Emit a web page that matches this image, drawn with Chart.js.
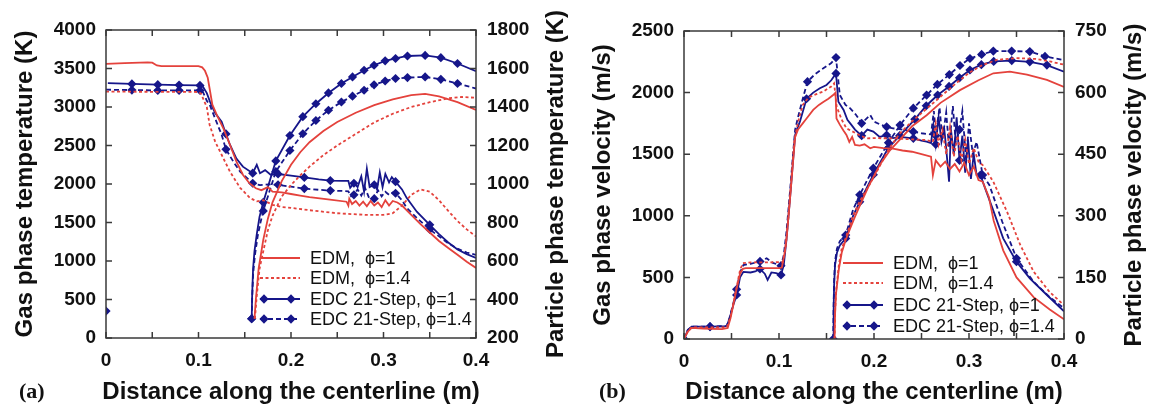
<!DOCTYPE html>
<html>
<head>
<meta charset="utf-8">
<script src="https://cdn.jsdelivr.net/npm/chart.js@4.4.0/dist/chart.umd.min.js"></script>
<style>
  body { margin: 0; background: #fff; }
  #wrap { position: relative; width: 1149px; height: 408px; }
  canvas { position: absolute; top: 0; }
</style>
</head>
<body>
<div id="wrap">
  <canvas id="chartA" width="575" height="408" style="left:0px"></canvas>
  <canvas id="chartB" width="574" height="408" style="left:575px"></canvas>
</div>
<script>
// ---- (a) temperatures along the centerline, [x (m), T (K)] ----
const aGasEdm1 = [[0,3560],[0.02,3570],[0.045,3580],[0.05,3575],[0.055,3540],[0.06,3530],[0.1,3530],[0.104,3515],[0.107,3470],[0.11,3380],[0.112,3240],[0.115,3030],[0.12,2890],[0.127,2720],[0.134,2510],[0.141,2290],[0.148,2120],[0.155,2010],[0.162,1945],[0.168,1920],[0.175,1960],[0.18,1900],[0.19,1890],[0.2,1870],[0.21,1850],[0.22,1830],[0.24,1800],[0.26,1770],[0.262,1720],[0.263,1810],[0.266,1740],[0.27,1780],[0.274,1720],[0.278,1770],[0.282,1710],[0.286,1780],[0.29,1720],[0.294,1760],[0.298,1700],[0.302,1790],[0.306,1720],[0.31,1780],[0.315,1760],[0.32,1720],[0.33,1600],[0.34,1480],[0.35,1370],[0.36,1260],[0.37,1170],[0.38,1080],[0.39,990],[0.4,910]];
const aGasEdm14 = [[0,3200],[0.1,3195],[0.103,3170],[0.106,3080],[0.109,3000],[0.112,2770],[0.118,2550],[0.125,2380],[0.134,2160],[0.145,1950],[0.156,1815],[0.163,1775],[0.17,1790],[0.18,1730],[0.19,1700],[0.2,1690],[0.22,1660],[0.25,1620],[0.28,1600],[0.3,1600],[0.31,1620],[0.32,1720],[0.33,1860],[0.34,1930],[0.35,1900],[0.36,1790],[0.37,1650],[0.38,1520],[0.39,1410],[0.4,1320]];
// inlet point stands apart from the rest of the curve (null = break)
const aGasEdc1 = [[0,350],[0.001,null],[0.002,3310],[0.028,3300],[0.056,3290],[0.079,3285],[0.1016,3280],[0.105,3260],[0.109,3180],[0.1124,3070],[0.118,2920],[0.125,2810],[0.1297,2650],[0.134,2510],[0.141,2330],[0.148,2225],[0.1586,2140],[0.163,2250],[0.1665,2140],[0.172,2180],[0.178,2120],[0.186,2130],[0.2,2110],[0.2144,2085],[0.23,2060],[0.2425,2045],[0.255,2040],[0.262,2040],[0.264,1950],[0.268,2010],[0.272,1960],[0.276,2100],[0.279,1900],[0.282,2200],[0.285,1960],[0.29,1990],[0.293,1930],[0.296,2150],[0.299,1960],[0.302,2130],[0.306,2020],[0.309,2090],[0.313,2030],[0.32,1930],[0.325,1820],[0.336,1640],[0.35,1470],[0.36,1350],[0.37,1240],[0.38,1150],[0.39,1090],[0.4,1040]];
const aGasEdc14 = [[0,3225],[0.028,3220],[0.056,3215],[0.079,3215],[0.1016,3215],[0.105,3190],[0.109,3080],[0.1124,3020],[0.118,2850],[0.125,2640],[0.1297,2450],[0.1377,2290],[0.145,2160],[0.1586,2010],[0.1665,1985],[0.176,1995],[0.186,1990],[0.2,1965],[0.2144,1940],[0.23,1925],[0.2425,1915],[0.255,1910],[0.262,1905],[0.265,1840],[0.268,1860],[0.272,1930],[0.276,1850],[0.28,1950],[0.284,1830],[0.29,1810],[0.294,1920],[0.298,1840],[0.302,1900],[0.306,1860],[0.31,1890],[0.313,1880],[0.32,1790],[0.325,1690],[0.336,1560],[0.35,1410],[0.36,1320],[0.37,1230],[0.38,1160],[0.39,1110],[0.4,1080]];
const aPartEdm1 = [[0.1605,300],[0.162,400],[0.165,560],[0.17,710],[0.175,820],[0.18,905],[0.19,1015],[0.2,1100],[0.21,1165],[0.22,1217],[0.235,1275],[0.25,1322],[0.27,1370],[0.29,1410],[0.31,1440],[0.33,1462],[0.345,1468],[0.36,1455],[0.38,1425],[0.4,1385]];
const aPartEdm14 = [[0.161,300],[0.163,420],[0.166,560],[0.17,650],[0.175,760],[0.18,835],[0.19,935],[0.2,995],[0.21,1045],[0.22,1090],[0.235,1150],[0.25,1200],[0.27,1260],[0.29,1320],[0.31,1365],[0.33,1400],[0.35,1425],[0.37,1445],[0.385,1452],[0.4,1448]];
const aPartEdc1 = [[0.1575,300],[0.158,420],[0.159,560],[0.1605,650],[0.163,740],[0.166,830],[0.17,905],[0.1836,1120],[0.1988,1252],[0.2128,1350],[0.2269,1417],[0.2405,1473],[0.2545,1522],[0.2665,1556],[0.279,1591],[0.2898,1617],[0.3018,1640],[0.313,1652],[0.3259,1665],[0.345,1668],[0.362,1656],[0.38,1626],[0.4,1586]];
const aPartEdc14 = [[0.1575,300],[0.158,400],[0.159,530],[0.161,630],[0.164,730],[0.167,800],[0.17,860],[0.1836,1065],[0.1988,1174],[0.2128,1261],[0.2269,1330],[0.2405,1383],[0.2545,1426],[0.2665,1456],[0.279,1487],[0.2898,1515],[0.3018,1535],[0.313,1548],[0.3259,1553],[0.345,1556],[0.362,1544],[0.38,1522],[0.4,1496]];
// diamond positions on the EDC curves (x in m)
const aGasEdc1Marks = [0,0.028,0.056,0.079,0.1016,0.1297,0.1586,0.186,0.2144,0.2425,0.268,0.29,0.313,0.35];
const aGasEdc14Marks = [0.028,0.056,0.079,0.1016,0.1297,0.1586,0.186,0.2144,0.2425,0.268,0.29,0.313,0.35];
const aPartMarks = [0.1575,0.17,0.1836,0.1988,0.2128,0.2269,0.2405,0.2545,0.2665,0.279,0.2898,0.3018,0.313,0.3259,0.345,0.362,0.38];

// ---- (b) velocities along the centerline, [x (m), u (m/s)] ----
const bGasEdm1 = [[0,0],[0.004,60],[0.008,90],[0.02,85],[0.04,80],[0.046,90],[0.049,170],[0.052,280],[0.0554,410],[0.059,530],[0.062,570],[0.065,575],[0.08,575],[0.1,575],[0.103,580],[0.106,700],[0.108,820],[0.1116,1140],[0.115,1460],[0.117,1640],[0.12,1700],[0.125,1750],[0.129,1790],[0.136,1860],[0.142,1900],[0.147,1925],[0.152,1950],[0.157,1980],[0.1595,2000],[0.1605,1790],[0.164,1740],[0.168,1690],[0.171,1656],[0.174,1600],[0.177,1640],[0.18,1575],[0.185,1570],[0.19,1580],[0.196,1548],[0.2,1560],[0.21,1550],[0.22,1545],[0.23,1530],[0.24,1520],[0.25,1500],[0.26,1480],[0.262,1330],[0.265,1450],[0.27,1400],[0.275,1440],[0.28,1380],[0.285,1420],[0.29,1360],[0.295,1430],[0.3,1330],[0.305,1400],[0.31,1290],[0.3144,1277],[0.321,1150],[0.326,960],[0.336,720],[0.35,500],[0.368,340],[0.385,240],[0.4,160]];
const bGasEdm14 = [[0,0],[0.004,60],[0.008,95],[0.02,95],[0.045,95],[0.049,180],[0.052,290],[0.0554,420],[0.059,560],[0.062,615],[0.07,622],[0.09,622],[0.104,625],[0.107,750],[0.11,1000],[0.113,1300],[0.116,1600],[0.12,1760],[0.125,1900],[0.131,1960],[0.14,1990],[0.147,2010],[0.155,2050],[0.158,2075],[0.1607,1886],[0.166,1780],[0.171,1710],[0.176,1690],[0.181,1669],[0.192,1629],[0.2,1630],[0.22,1629],[0.24,1620],[0.255,1615],[0.262,1600],[0.265,1750],[0.268,1580],[0.272,1700],[0.276,1500],[0.28,1720],[0.284,1480],[0.288,1650],[0.292,1450],[0.296,1620],[0.3,1420],[0.305,1550],[0.31,1440],[0.3144,1412],[0.3256,1277],[0.34,1034],[0.354,763],[0.368,547],[0.385,380],[0.4,275]];
const bGasEdc1 = [[0,0],[0.004,70],[0.008,100],[0.0274,100],[0.045,105],[0.048,168],[0.0519,276],[0.0554,357],[0.059,500],[0.0625,545],[0.07,540],[0.075,548],[0.08,568],[0.085,530],[0.088,479],[0.092,540],[0.097,535],[0.1021,520],[0.105,600],[0.108,817],[0.1116,1142],[0.115,1466],[0.117,1656],[0.1193,1710],[0.122,1764],[0.129,1950],[0.136,2000],[0.143,2035],[0.15,2062],[0.155,2100],[0.16,2156],[0.1625,1926],[0.168,1859],[0.172,1780],[0.176,1740],[0.18,1700],[0.187,1650],[0.193,1700],[0.1993,1683],[0.206,1640],[0.2133,1656],[0.22,1630],[0.227,1640],[0.2414,1629],[0.25,1610],[0.2554,1602],[0.26,1590],[0.2625,1737],[0.265,1580],[0.268,1800],[0.271,1600],[0.274,1700],[0.276,1550],[0.279,1277],[0.281,1700],[0.284,1500],[0.287,1800],[0.29,1450],[0.293,1650],[0.296,1350],[0.299,1620],[0.302,1300],[0.305,1500],[0.308,1331],[0.312,1331],[0.317,1223],[0.326,1034],[0.336,817],[0.35,628],[0.364,492],[0.382,357],[0.4,225]];
const bGasEdc14 = [[0,0],[0.004,75],[0.008,100],[0.0274,100],[0.045,105],[0.048,175],[0.0519,290],[0.0554,403],[0.059,540],[0.0625,600],[0.07,610],[0.08,630],[0.087,655],[0.093,620],[0.1021,595],[0.105,680],[0.108,880],[0.1116,1200],[0.115,1520],[0.117,1700],[0.12,1800],[0.125,1950],[0.13,2089],[0.138,2150],[0.1467,2197],[0.155,2240],[0.16,2284],[0.164,1981],[0.17,1900],[0.175,1872],[0.181,1820],[0.187,1751],[0.196,1818],[0.2,1764],[0.207,1740],[0.2133,1722],[0.22,1710],[0.23,1700],[0.2414,1683],[0.25,1670],[0.26,1660],[0.263,1850],[0.265,1650],[0.269,1880],[0.272,1620],[0.276,1840],[0.279,1550],[0.283,1890],[0.286,1600],[0.29,1700],[0.293,1850],[0.297,1450],[0.3,1750],[0.304,1500],[0.308,1600],[0.3144,1331],[0.3214,1250],[0.335,952],[0.35,655],[0.368,465],[0.385,340],[0.4,250]];
const bPartEdm1 = [[0.1585,0],[0.159,60],[0.16,110],[0.163,170],[0.166,210],[0.17,240],[0.175,270],[0.18,298],[0.1853,326],[0.195,375],[0.206,424],[0.217,460],[0.227,485],[0.24,518],[0.2554,545],[0.27,575],[0.2905,606],[0.31,630],[0.3256,647],[0.343,651],[0.361,644],[0.382,631],[0.4,614]];
const bPartEdm14 = [[0.1585,0],[0.159,65],[0.16,115],[0.163,180],[0.166,220],[0.17,245],[0.178,300],[0.185,335],[0.2,395],[0.215,460],[0.227,500],[0.24,530],[0.255,560],[0.27,590],[0.285,620],[0.3,648],[0.315,668],[0.33,680],[0.35,684],[0.37,682],[0.385,676],[0.4,668]];
const bPartEdc1 = [[0.157,0],[0.1575,70],[0.158,130],[0.159,180],[0.161,210],[0.164,228],[0.1702,245],[0.178,300],[0.185,334],[0.1993,400],[0.215,465],[0.227,495],[0.243,535],[0.255,568],[0.267,594],[0.279,615],[0.29,636],[0.301,655],[0.313,668],[0.326,676],[0.345,678],[0.364,675],[0.382,667],[0.4,651]];
const bPartEdc14 = [[0.157,0],[0.1575,80],[0.158,140],[0.159,190],[0.161,220],[0.164,238],[0.1702,253],[0.178,315],[0.185,351],[0.1993,416],[0.2152,478],[0.2274,521],[0.2414,562],[0.2554,594],[0.2667,620],[0.2793,644],[0.2905,666],[0.301,683],[0.3133,693],[0.3256,701],[0.3449,701],[0.364,700],[0.38,688],[0.4,679]];
const bGasEdc1Marks = [0,0.0274,0.0554,0.08,0.1021,0.129,0.16,0.187,0.2133,0.2414,0.265,0.29,0.312,0.35];
const bGasEdc14Marks = [0.0274,0.0554,0.08,0.1021,0.13,0.16,0.187,0.2133,0.2414,0.265,0.29,0.3144,0.35];
const bPartEdc1Marks = [0.157,0.1702,0.185,0.1993,0.215,0.227,0.243,0.255,0.267,0.279,0.29,0.301,0.313,0.326,0.345,0.364,0.382];
const bPartEdc14Marks = [0.1702,0.185,0.1993,0.2152,0.2274,0.2414,0.2554,0.2667,0.2793,0.2905,0.301,0.3133,0.3256,0.3449,0.364,0.38];

const legendLabels = ['EDM,  \u03D5=1', 'EDM,  \u03D5=1.4', 'EDC 21-Step, \u03D5=1', 'EDC 21-Step, \u03D5=1.4'];
const xTickMarks = [0, 0.05, 0.1, 0.15, 0.2, 0.25, 0.3, 0.35, 0.4];

const RED = '#e4423c';
const BLUE = '#16168a';
const INK = '#111';
const SANS = 'Arial, "Liberation Sans", sans-serif';
const STYLE = {
  edm1:  { color: RED,  dash: [] },
  edm14: { color: RED,  dash: [3, 2.5] },
  edc1:  { color: BLUE, dash: [] },
  edc14: { color: BLUE, dash: [5, 3] }
};

function line(pts, kind, axis, marks) {
  const s = STYLE[kind];
  const m = marks || [];
  return {
    data: pts.map(p => ({ x: p[0], y: p[1] })),
    yAxisID: axis,
    borderColor: s.color,
    borderDash: s.dash,
    borderWidth: 1.8,
    pointStyle: 'rectRot',
    pointRadius: ctx => (ctx.raw && ctx.raw.y !== null && m.includes(ctx.raw.x)) ? 4.6 : 0,
    pointBackgroundColor: BLUE,
    pointBorderColor: BLUE,
    pointBorderWidth: 0,
    spanGaps: false,
    tension: 0,
    fill: false
  };
}

// frame, inward ticks, axis titles, panel tag and the in-plot legend
const decor = {
  id: 'decor',
  afterDatasetsDraw(chart, args, o) {
    const { ctx, chartArea: a, scales } = chart;
    ctx.save();
    ctx.strokeStyle = '#3a3a3a';
    ctx.lineWidth = 1.5;
    ctx.beginPath();
    xTickMarks.forEach(v => {
      const px = scales.x.getPixelForValue(v);
      ctx.moveTo(px, a.bottom); ctx.lineTo(px, a.bottom - 6);
      ctx.moveTo(px, a.top); ctx.lineTo(px, a.top + 6);
    });
    scales.y.ticks.forEach(t => {
      const py = scales.y.getPixelForValue(t.value);
      ctx.moveTo(a.left, py); ctx.lineTo(a.left + 6, py);
    });
    scales.y2.ticks.forEach(t => {
      const py = scales.y2.getPixelForValue(t.value);
      ctx.moveTo(a.right, py); ctx.lineTo(a.right - 6, py);
    });
    ctx.stroke();
    ctx.strokeRect(a.left, a.top, a.right - a.left, a.bottom - a.top);

    // legend
    const kinds = ['edm1', 'edm14', 'edc1', 'edc14'];
    ctx.font = '18px ' + SANS;
    ctx.textBaseline = 'middle';
    ctx.textAlign = 'left';
    kinds.forEach((k, i) => {
      const y = o.legend.rows[i];
      const x0 = o.legend.x;
      ctx.strokeStyle = STYLE[k].color;
      ctx.setLineDash(STYLE[k].dash);
      ctx.lineWidth = 1.8;
      ctx.beginPath();
      ctx.moveTo(x0, y); ctx.lineTo(x0 + 40, y);
      ctx.stroke();
      ctx.setLineDash([]);
      if (k.startsWith('edc')) {
        ctx.fillStyle = BLUE;
        [x0 + 4, x0 + 31].forEach(mx => {
          ctx.beginPath();
          ctx.moveTo(mx, y - 4.8); ctx.lineTo(mx + 4.6, y);
          ctx.lineTo(mx, y + 4.8); ctx.lineTo(mx - 4.6, y);
          ctx.closePath(); ctx.fill();
        });
      }
      ctx.fillStyle = INK;
      ctx.fillText(legendLabels[i], x0 + 50, y + 1);
    });

    // axis titles
    const cy = (a.top + a.bottom) / 2;
    ctx.fillStyle = INK;
    ctx.font = 'bold 24px ' + SANS;
    ctx.textAlign = 'center';
    ctx.fillText(o.xTitle, (a.left + a.right) / 2, 392);
    [[o.leftTitle, o.leftX], [o.rightTitle, o.rightX]].forEach(([txt, tx]) => {
      ctx.save();
      ctx.translate(tx, cy);
      ctx.rotate(-Math.PI / 2);
      ctx.fillText(txt, 0, 0);
      ctx.restore();
    });
    ctx.font = 'bold 22px "Liberation Serif", "Times New Roman", serif';
    ctx.textAlign = 'left';
    ctx.fillText(o.tag, o.tagX, 392);
    ctx.restore();
  }
};

function panel(id, cfg) {
  const tickFont = { family: SANS, size: 19, weight: 'bold' };
  return new Chart(document.getElementById(id), {
    type: 'line',
    data: { datasets: cfg.datasets },
    plugins: [decor],
    options: {
      responsive: false,
      animation: false,
      devicePixelRatio: 1,
      events: [],
      layout: { padding: { top: cfg.top, left: 0, right: 0, bottom: 0 } },
      plugins: {
        legend: { display: false },
        tooltip: { enabled: false },
        decor: cfg.decor
      },
      scales: {
        x: {
          type: 'linear', min: 0, max: 0.4,
          afterFit: s => { s.height = cfg.xHeight; },
          grid: { display: false, drawTicks: false },
          border: { display: false },
          ticks: {
            stepSize: 0.1, padding: 11, color: INK, font: tickFont, maxRotation: 0,
            callback: v => v === 0 ? '0' : v.toFixed(1)
          }
        },
        y: {
          position: 'left', min: cfg.yMin, max: cfg.yMax,
          afterFit: s => { s.width = cfg.leftW; },
          grid: { display: false, drawTicks: false },
          border: { display: false },
          ticks: { stepSize: cfg.yStep, padding: 10, color: INK, font: tickFont, callback: v => String(v) }
        },
        y2: {
          position: 'right', min: cfg.y2Min, max: cfg.y2Max,
          afterFit: s => { s.width = cfg.rightW; },
          grid: { display: false, drawTicks: false },
          border: { display: false },
          ticks: { stepSize: cfg.y2Step, padding: 11, color: INK, font: tickFont, callback: v => String(v) }
        }
      }
    }
  });
}

panel('chartA', {
  top: 30, xHeight: 70, leftW: 106, rightW: 99,
  yMin: 0, yMax: 4000, yStep: 500,
  y2Min: 200, y2Max: 1800, y2Step: 200,
  datasets: [
    line(aGasEdm1, 'edm1', 'y'),
    line(aGasEdm14, 'edm14', 'y'),
    line(aPartEdm1, 'edm1', 'y2'),
    line(aPartEdm14, 'edm14', 'y2'),
    line(aGasEdc14, 'edc14', 'y', aGasEdc14Marks),
    line(aGasEdc1, 'edc1', 'y', aGasEdc1Marks),
    line(aPartEdc14, 'edc14', 'y2', aPartMarks),
    line(aPartEdc1, 'edc1', 'y2', aPartMarks)
  ],
  decor: {
    xTitle: 'Distance along the centerline (m)',
    leftTitle: 'Gas phase temperature (K)', leftX: 25,
    rightTitle: 'Particle phase temperature (K)', rightX: 556,
    tag: '(a)', tagX: 19,
    legend: { x: 260, rows: [258, 278, 299, 319] }
  }
});

panel('chartB', {
  top: 31, xHeight: 69, leftW: 109, rightW: 85,
  yMin: 0, yMax: 2500, yStep: 500,
  y2Min: 0, y2Max: 750, y2Step: 150,
  datasets: [
    line(bGasEdm1, 'edm1', 'y'),
    line(bGasEdm14, 'edm14', 'y'),
    line(bPartEdm1, 'edm1', 'y2'),
    line(bPartEdm14, 'edm14', 'y2'),
    line(bGasEdc14, 'edc14', 'y', bGasEdc14Marks),
    line(bGasEdc1, 'edc1', 'y', bGasEdc1Marks),
    line(bPartEdc14, 'edc14', 'y2', bPartEdc14Marks),
    line(bPartEdc1, 'edc1', 'y2', bPartEdc1Marks)
  ],
  decor: {
    xTitle: 'Distance along the centerline (m)',
    leftTitle: 'Gas phase velocity (m/s)', leftX: 28,
    rightTitle: 'Particle phase velocity (m/s)', rightX: 559,
    tag: '(b)', tagX: 24,
    legend: { x: 268, rows: [263, 283, 305, 326] }
  }
});
</script>
</body>
</html>
